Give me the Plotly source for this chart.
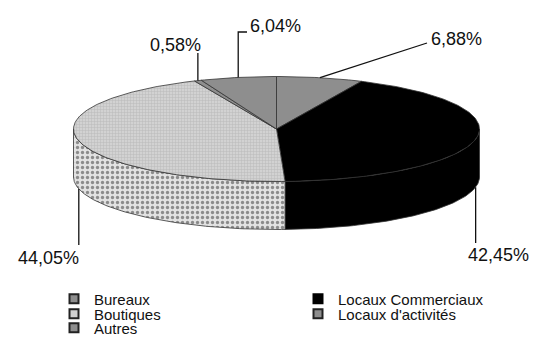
import numpy as np
import plotly.graph_objects as go

# ---- data ----
categories = ["Bureaux", "Locaux Commerciaux", "Boutiques", "Locaux d'activités", "Autres"]
values = [6.88, 42.45, 44.05, 0.58, 6.04]
value_labels = ["6,88%", "42,45%", "44,05%", "0,58%", "6,04%"]

# ---- layout constants (pixels) ----
W, H = 537, 338
CX, CY, RX, RY, DEPTH = 276.5, 129.0, 203.0, 52.5, 48.0
FONT = "Liberation Sans, Arial, Helvetica, sans-serif"

top_style = {
    "Bureaux": dict(fillcolor="#8e8e8e", pattern=None),
    "Locaux Commerciaux": dict(fillcolor="#000000", pattern=None),
    "Boutiques": dict(fillcolor="#cccccc",
                      pattern=dict(shape="+", bgcolor="#d2d2d2", fgcolor="#a0a0a0", size=3, solidity=0.3)),
    "Locaux d'activités": dict(fillcolor="#8e8e8e", pattern=None),
    "Autres": dict(fillcolor="#8e8e8e", pattern=None),
}
side_style = {
    "Bureaux": dict(fillcolor="#7a7a7a", pattern=None),
    "Locaux Commerciaux": dict(fillcolor="#000000", pattern=None),
    "Boutiques": dict(fillcolor="#e4e4e4",
                      pattern=dict(shape=".", bgcolor="#e2e2e2", fgcolor="#333333", size=5, solidity=0.34)),
    "Locaux d'activités": dict(fillcolor="#7a7a7a", pattern=None),
    "Autres": dict(fillcolor="#7a7a7a", pattern=None),
}
legend_style = {
    "Bureaux": dict(color="#8e8e8e", line="#222222"),
    "Locaux Commerciaux": dict(color="#000000", line="#000000"),
    "Boutiques": dict(color="#d0d0d0", line="#222222"),
    "Locaux d'activités": dict(color="#8e8e8e", line="#222222"),
    "Autres": dict(color="#8e8e8e", line="#222222"),
}
# label placement: which rim the leader starts from, leader bends, text position/anchor
label_place = {
    "Bureaux": dict(rim="top", bends=[(427, 43)], text=(429, 39), anchor="left"),
    "Locaux Commerciaux": dict(rim="bottom", bends=[("v", 243)], text=(466, 255), anchor="left"),
    "Boutiques": dict(rim="bottom", bends=[("v", 245)], text=(81, 258), anchor="right"),
    "Locaux d'activités": dict(rim="top", bends=[("v", 53)], text=(203, 45), anchor="right"),
    "Autres": dict(rim="top", bends=[("v", 32), (247, 32)], text=(248, 26), anchor="left"),
}


def ell(deg, dy=0.0):
    t = np.radians(deg)
    return CX + RX * np.sin(t), CY - RY * np.cos(t) + dy


def arc(a0, a1, dy=0.0, step=1.0):
    n = max(2, int(abs(a1 - a0) / step) + 2)
    ang = np.linspace(a0, a1, n)
    xs, ys = ell(ang, dy)
    return list(xs), list(ys)


total = sum(values)
bounds = []
acc = 0.0
for v in values:
    a0 = acc / total * 360.0
    acc += v
    a1 = acc / total * 360.0
    bounds.append((a0, a1))

fig = go.Figure()


def add_poly(xs, ys, st, lw=0.8):
    kw = dict(x=xs, y=ys, mode="lines", fill="toself", fillcolor=st["fillcolor"],
              line=dict(color="#333333", width=lw), hoverinfo="skip", showlegend=False)
    if st["pattern"]:
        kw["fillpattern"] = st["pattern"]
    fig.add_trace(go.Scatter(**kw))


# side walls (front half only, 90..270 deg)
for cat, (a0, a1) in zip(categories, bounds):
    s0, s1 = max(a0, 90.0), min(a1, 270.0)
    if s1 <= s0:
        continue
    tx, ty = arc(s0, s1)
    bx, by = arc(s1, s0, dy=DEPTH)
    add_poly(tx + bx + [tx[0]], ty + by + [ty[0]], side_style[cat])

# top faces
for cat, (a0, a1) in zip(categories, bounds):
    ax_, ay_ = arc(a0, a1)
    add_poly([CX] + ax_ + [CX], [CY] + ay_ + [CY], top_style[cat])

# leader lines and value labels
for cat, (a0, a1), lab in zip(categories, bounds, value_labels):
    p = label_place[cat]
    mid = (a0 + a1) / 2.0
    x0, y0 = ell(mid, DEPTH if p["rim"] == "bottom" else 0.0)
    xs, ys = [float(x0)], [float(y0)]
    for bx_, by_ in p["bends"]:
        xs.append(xs[-1] if bx_ == "v" else bx_)
        ys.append(by_)
    fig.add_trace(go.Scatter(x=xs, y=ys, mode="lines", line=dict(color="#111111", width=1.3),
                             hoverinfo="skip", showlegend=False))
    fig.add_annotation(x=p["text"][0], y=p["text"][1], xref="x", yref="y", text=lab,
                       showarrow=False, xanchor=p["anchor"], yanchor="middle",
                       font=dict(family=FONT, size=18, color="#111111"))

# legend entries: two per row, each row its own legend
legend_names = ["legend", "legend2", "legend3"]
for i, cat in enumerate(categories):
    st = legend_style[cat]
    fig.add_trace(go.Scatter(x=[None], y=[None], mode="markers", name=cat,
                             legend=legend_names[i // 2],
                             marker=dict(symbol="square", size=9, color=st["color"],
                                         line=dict(color=st["line"], width=2))))

row_y = [299, 314, 328]
leg_common = dict(orientation="h", xanchor="left", yanchor="middle", entrywidth=199,
                  entrywidthmode="pixels", bgcolor="rgba(0,0,0,0)", itemwidth=30,
                  font=dict(family=FONT, size=15, color="#111111"))
fig.update_layout(
    width=W, height=H, margin=dict(l=0, r=0, t=0, b=0, autoexpand=False),
    paper_bgcolor="white", plot_bgcolor="white",
    xaxis=dict(range=[0, W], visible=False, fixedrange=True),
    yaxis=dict(range=[H, 0], visible=False, fixedrange=True),
    legend=dict(x=54 / W, y=1 - row_y[0] / H, **leg_common),
    legend2=dict(x=54 / W, y=1 - row_y[1] / H, **leg_common),
    legend3=dict(x=54 / W, y=1 - row_y[2] / H, **leg_common),
)

fig.write_html("out.html")
